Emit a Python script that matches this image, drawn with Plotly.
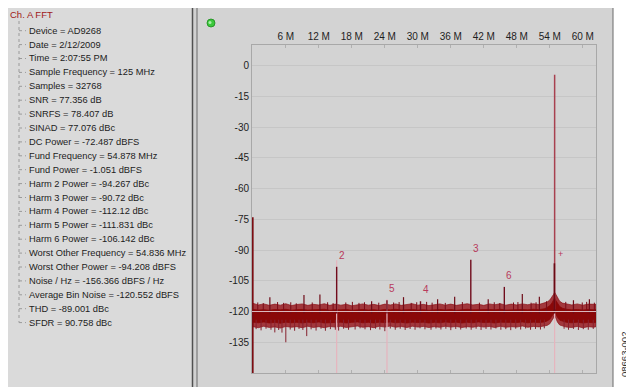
import plotly.graph_objects as go

# ---------------- data ----------------
panel_title = "Ch. A FFT"
panel_items = [
    "Device = AD9268", "Date = 2/12/2009", "Time = 2:07:55 PM",
    "Sample Frequency = 125 MHz", "Samples = 32768", "SNR = 77.356 dB",
    "SNRFS = 78.407 dB", "SINAD = 77.076 dBc", "DC Power = -72.487 dBFS",
    "Fund Frequency = 54.878 MHz", "Fund Power = -1.051 dBFS",
    "Harm 2 Power = -94.267 dBc", "Harm 3 Power = -90.72 dBc",
    "Harm 4 Power = -112.12 dBc", "Harm 5 Power = -111.831 dBc",
    "Harm 6 Power = -106.142 dBc", "Worst Other Frequency = 54.836 MHz",
    "Worst Other Power = -94.208 dBFS", "Noise / Hz = -156.366 dBFS / Hz",
    "Average Bin Noise = -120.552 dBFS", "THD = -89.001 dBc", "SFDR = 90.758 dBc",
]

x_tick_vals = [6, 12, 18, 24, 30, 36, 42, 48, 54, 60]
x_tick_text = ["6 M", "12 M", "18 M", "24 M", "30 M", "36 M", "42 M", "48 M", "54 M", "60 M"]
y_tick_vals = [0, -15, -30, -45, -60, -75, -90, -105, -120, -135]
y_tick_text = ["0", "-15", "-30", "-45", "-60", "-75", "-90", "-105", "-120", "-135"]

# noise floor envelopes (MHz, dBFS)
noise_f = [0, 1, 2, 3, 4, 5, 6, 7, 8, 9, 10, 11, 12, 13, 14, 15, 16, 17, 18, 19,
           20, 21, 22, 23, 24, 25, 26, 27, 28, 29, 30, 31, 32, 33, 34, 35, 36, 37, 38, 39,
           40, 41, 42, 43, 44, 45, 46, 47, 48, 49, 50, 51, 52, 53,
           53.5, 54, 54.4, 54.7, 54.878, 55.1, 55.4, 55.8, 56.3,
           57, 58, 59, 60, 61, 62, 62.4]
noise_outer_top = [-116.0, -116.8, -116.3, -117.0, -116.4, -116.9, -116.2, -117.1, -116.6, -116.3,
                   -117.0, -116.5, -116.8, -116.2, -117.0, -116.4, -116.9, -116.5, -117.2, -116.6,
                   -116.3, -116.9, -116.5, -117.1, -116.4, -116.8, -116.3, -117.0, -116.6, -116.2,
                   -116.9, -116.5, -117.1, -116.6, -116.3, -116.9, -116.4, -117.0, -116.6, -116.2,
                   -116.8, -116.5, -117.0, -116.3, -116.7, -116.2, -116.9, -116.4, -116.8, -116.3,
                   -116.7, -116.2, -116.6, -116.0,
                   -115.4, -114.4, -113.0, -111.6, -110.6, -111.8, -113.4, -115.0, -115.9,
                   -116.4, -116.8, -116.3, -116.9, -116.4, -116.7, -116.5]
noise_core_top = [-119.0, -119.3, -119.1, -119.4, -119.0, -119.2, -118.9, -119.4, -119.1, -119.0,
                  -119.3, -119.1, -119.2, -118.9, -119.4, -119.1, -119.2, -119.0, -119.4, -119.1,
                  -119.0, -119.3, -119.1, -119.4, -119.0, -119.2, -118.9, -119.3, -119.1, -119.0,
                  -119.3, -119.1, -119.4, -119.1, -119.0, -119.3, -119.0, -119.4, -119.1, -118.9,
                  -119.2, -119.1, -119.3, -119.0, -119.2, -118.9, -119.3, -119.1, -119.2, -119.0,
                  -119.2, -118.9, -119.1, -118.7,
                  -118.0, -117.2, -115.8, -114.4, -113.4, -114.6, -116.2, -117.6, -118.4,
                  -118.9, -119.2, -119.0, -119.3, -119.0, -119.2, -119.1]
noise_core_bot = [-125.2, -125.5, -125.1, -125.6, -125.3, -125.7, -125.2, -125.5, -125.3, -125.6,
                  -125.2, -125.5, -125.1, -125.6, -125.3, -125.4, -125.2, -125.6, -125.3, -125.1,
                  -125.5, -125.3, -125.6, -125.2, -125.4, -125.1, -125.5, -125.3, -125.6, -125.2,
                  -125.4, -125.2, -125.6, -125.3, -125.5, -125.1, -125.4, -125.2, -125.6, -125.3,
                  -125.5, -125.1, -125.4, -125.3, -125.6, -125.2, -125.5, -125.3, -125.4, -125.1,
                  -125.5, -125.2, -125.4, -125.1,
                  -124.6, -123.8, -122.4, -121.0, -120.0, -121.2, -122.9, -124.2, -124.8,
                  -125.3, -125.5, -125.2, -125.6, -125.3, -125.5, -125.2]
noise_outer_bot = [-127.4, -127.9, -127.2, -127.8, -127.5, -128.1, -127.3, -127.7, -127.4, -127.9,
                   -127.2, -127.8, -127.4, -127.9, -127.3, -127.6, -127.2, -127.8, -127.5, -127.1,
                   -127.7, -127.4, -127.9, -127.2, -127.6, -127.1, -127.7, -127.3, -127.8, -127.2,
                   -127.6, -127.3, -127.8, -127.4, -127.7, -127.2, -127.6, -127.3, -127.8, -127.4,
                   -127.7, -127.2, -127.6, -127.3, -127.8, -127.2, -127.7, -127.4, -127.6, -127.1,
                   -127.7, -127.3, -127.5, -127.0,
                   -126.8, -126.0, -124.6, -123.0, -121.8, -123.2, -125.2, -126.6, -127.2,
                   -127.6, -127.8, -127.3, -127.9, -127.4, -127.7, -127.4]

# small upward noise spikes
small_up_f = [0.9, 1.9, 4.5, 5.6, 6.9, 7.9, 10.8, 13.6, 14.6, 16.9, 18.1, 19.3, 20.3, 22.9,
              25.6, 26.6, 28.8, 29.8, 31.6, 32.6, 35.0, 38.1, 41.2, 43.9, 44.9, 47.4, 48.2,
              50.6, 51.5, 53.4, 56.9, 59.9, 60.7, 62.1]
small_up_db = [-115.6, -115.9, -115.4, -115.8, -115.5, -116.0, -115.6, -115.5, -115.9, -115.6,
               -115.3, -115.8, -115.5, -115.7, -115.6, -115.4, -115.8, -115.5, -115.3, -115.7,
               -115.8, -115.4, -115.7, -115.5, -115.9, -115.6, -115.4, -115.7, -115.5, -115.0,
               -115.3, -115.6, -115.3, -115.7]

# regular spurs (~3 MHz spacing)
spur_f = [3.1, 9.3, 12.2, 21.6, 27.4, 33.6, 36.7, 42.8, 49.0, 52.1, 58.3, 61.2]
spur_db = [-113.0, -112.0, -111.7, -115.0, -113.0, -114.0, -112.8, -114.0, -111.5, -112.8, -114.5, -114.0]

# downward noise spikes
down_f = [0.6, 1.5, 2.4, 3.3, 4.0, 4.7, 5.3, 6.0, 6.8, 7.6, 8.4, 9.1, 9.8, 10.6, 11.5, 12.4,
          13.2, 14.1, 15.0, 15.6, 16.5, 17.4, 18.6, 19.5, 20.4, 21.4, 22.3, 23.1, 24.0, 25.0,
          25.9, 26.8, 27.7, 28.6, 29.5, 30.4, 31.3, 32.4, 33.3, 34.2, 35.1, 36.0, 36.9, 37.8,
          38.8, 39.7, 40.6, 41.5, 42.4, 43.3, 44.2, 45.1, 46.0, 46.9, 47.8, 48.7, 49.6, 50.5,
          51.4, 52.3, 53.0, 56.6, 57.4, 58.3, 59.2, 60.1, 61.0, 61.9]
down_db = [-128.6, -129.2, -128.4, -128.9, -130.2, -129.0, -130.3, -135.0, -128.8, -129.4,
           -128.5, -129.0, -132.0, -128.7, -129.3, -128.4, -129.4, -128.6, -128.9, -129.3,
           -128.4, -128.9, -128.8, -128.2, -128.7, -129.1, -128.4, -128.8, -129.6, -128.3,
           -128.9, -128.4, -129.0, -128.5, -128.9, -128.2, -128.7, -128.9, -128.3, -128.8,
           -128.4, -129.1, -128.5, -128.8, -128.3, -128.9, -128.4, -129.0, -128.5, -128.8,
           -128.3, -128.9, -128.6, -129.1, -128.4, -128.8, -128.3, -128.9, -128.5, -128.8,
           -128.2, -128.4, -128.9, -128.5, -129.0, -128.6, -128.9, -128.5]

# harmonics (aliased frequencies, MHz) and their levels
harm_labels = ["2", "3", "4", "5", "6"]
harm_f = [15.244, 39.634, 30.488, 24.390, 45.732]
harm_db = [-98.2, -94.7, -115.0, -114.5, -108.0]

fund_f = 54.878
fund_db = -4.5
worst_f = 54.836
worst_db = -96.5
dc_f = 0.0
dc_db = -74.0
noise_base_db = -121.0

marker_f = [15.244, 24.390, 54.878]
marker_top_db = [-95.0, -114.0, -120.5]

# ---------------- pixel helpers (page pixels; the page body adds an 8 px offset) ----------------
OFF = 8
FIG_W, FIG_H = 634 - OFF, 387 - OFF
L, R, T, B = 252, 596, 45, 373
W, H = R - L, B - T


def px(p):
    return (p - L) / W


def py(p):
    return (B - p) / H


def segs(fs, tops, base):
    xs, ys = [], []
    for f, t in zip(fs, tops):
        xs += [f, f, None]
        ys += [base, t, None]
    return xs, ys


DARK = "#8a0808"
FONT = "Liberation Sans"
fig = go.Figure()

# noise floor bands
fig.add_trace(go.Scatter(x=noise_f + noise_f[::-1], y=noise_outer_top + noise_outer_bot[::-1],
                         fill="toself", fillcolor="rgba(150,18,24,0.8)", mode="lines",
                         line=dict(color="rgba(140,16,22,0.85)", width=0.8), hoverinfo="skip"))
fig.add_trace(go.Scatter(x=noise_f + noise_f[::-1], y=noise_core_top + noise_core_bot[::-1],
                         fill="toself", fillcolor=DARK, mode="lines",
                         line=dict(color=DARK, width=0.8), hoverinfo="skip"))

# marker lines (pink)
mx, my = [], []
for f, t in zip(marker_f, marker_top_db):
    mx += [f, f, None]
    my += [-150, t, None]
fig.add_trace(go.Scatter(x=mx, y=my, mode="lines", line=dict(color="#e6b4be", width=1.2),
                         hoverinfo="skip"))

# noise spikes
xs, ys = segs(small_up_f, small_up_db, noise_base_db)
fig.add_trace(go.Scatter(x=xs, y=ys, mode="lines", line=dict(color="#7a0c18", width=1),
                         hoverinfo="skip"))
xs, ys = segs(down_f, down_db, -124.0)
fig.add_trace(go.Scatter(x=xs, y=ys, mode="lines", line=dict(color="#86202e", width=1),
                         hoverinfo="skip"))
xs, ys = segs(spur_f, spur_db, noise_base_db)
fig.add_trace(go.Scatter(x=xs, y=ys, mode="lines", line=dict(color="#6e0c18", width=1.2),
                         hoverinfo="skip"))
xs, ys = segs(harm_f, harm_db, noise_base_db)
fig.add_trace(go.Scatter(x=xs, y=ys, mode="lines", line=dict(color="#700c1c", width=1.4),
                         hoverinfo="skip"))

# fundamental, worst other, DC
fig.add_trace(go.Scatter(x=[fund_f, fund_f], y=[-119.0, fund_db], mode="lines",
                         line=dict(color="#a8404f", width=1.5), hoverinfo="skip"))
fig.add_trace(go.Scatter(x=[worst_f, worst_f], y=[noise_base_db, worst_db], mode="lines",
                         line=dict(color="#6a0a14", width=1.6), hoverinfo="skip"))
fig.add_trace(go.Scatter(x=[dc_f, dc_f], y=[-150, dc_db], mode="lines",
                         line=dict(color="#7a0a10", width=1.6), hoverinfo="skip"))

annotations = []
# harmonic labels
for lab, f, d in zip(harm_labels, harm_f, harm_db):
    annotations.append(dict(x=f, y=d, xref="x", yref="y", text=lab, showarrow=False,
                            xanchor="left", yanchor="bottom", xshift=0, yshift=4,
                            font=dict(family=FONT, size=10, color="#b83a5c")))
annotations.append(dict(x=fund_f, y=worst_db, xref="x", yref="y", text="+", showarrow=False,
                        xanchor="left", yanchor="bottom", xshift=1, yshift=2,
                        font=dict(family=FONT, size=9, color="#b83a5c")))

# left panel text
annotations.append(dict(x=px(8), y=py(14), xref="paper", yref="paper", text=panel_title,
                        showarrow=False, xanchor="left", yanchor="middle",
                        font=dict(family=FONT, size=9.5, color="#a01818")))
item_y = [30.7 + i * 13.9 for i in range(len(panel_items))]
for t, yy in zip(panel_items, item_y):
    annotations.append(dict(x=px(27), y=py(yy), xref="paper", yref="paper", text=t,
                            showarrow=False, xanchor="left", yanchor="middle",
                            font=dict(family=FONT, size=9.3, color="#1c1c1c")))

# figure id
annotations.append(dict(x=px(624), y=py(355), xref="paper", yref="paper", text="08663-002",
                        showarrow=False, textangle=-90, xanchor="center", yanchor="middle",
                        font=dict(family=FONT, size=9.5, color="#333333")))

shapes = [
    # left panel
    dict(type="rect", xref="paper", yref="paper", x0=px(4), x1=px(193), y0=py(7), y1=py(392),
         fillcolor="#dadada", line=dict(color="#9a9a9a", width=1), layer="below"),
    # gap between panels
    dict(type="rect", xref="paper", yref="paper", x0=px(193), x1=px(197), y0=py(7), y1=py(392),
         fillcolor="#d0d0d0", line=dict(width=0), layer="below"),
    dict(type="line", xref="paper", yref="paper", x0=px(192.5), x1=px(192.5), y0=py(7), y1=py(392),
         line=dict(color="#505050", width=1.5), layer="below"),
    # right panel
    dict(type="rect", xref="paper", yref="paper", x0=px(197), x1=px(613), y0=py(7), y1=py(392),
         fillcolor="#d3d3d3", line=dict(color="#6a6a6a", width=1), layer="below"),
    # green dot
    dict(type="circle", xref="paper", yref="paper", x0=px(207), x1=px(215), y0=py(27), y1=py(19),
         fillcolor="#3cc83c", line=dict(color="#1c8a1c", width=0.8), layer="above"),
    dict(type="circle", xref="paper", yref="paper", x0=px(208.5), x1=px(211.5), y0=py(24), y1=py(21),
         fillcolor="#a8f0a8", line=dict(width=0), layer="above"),
    # tree vertical line
    dict(type="line", xref="paper", yref="paper", x0=px(19), x1=px(19), y0=py(21), y1=py(item_y[-1]),
         line=dict(color="#9a9a9a", width=1, dash="dot"), layer="above"),
    # light gridline at -120 drawn over the noise
    dict(type="line", xref="paper", yref="y", x0=0, x1=1, y0=-120, y1=-120,
         line=dict(color="rgba(235,215,218,0.85)", width=1), layer="above"),
]
for yy in item_y:
    shapes.append(dict(type="line", xref="paper", yref="paper", x0=px(19), x1=px(26),
                       y0=py(yy), y1=py(yy), line=dict(color="#9a9a9a", width=1, dash="dot"),
                       layer="above"))

fig.update_layout(
    width=FIG_W, height=FIG_H,
    margin=dict(l=L - OFF, r=634 - R, t=T - OFF, b=387 - B, pad=0),
    paper_bgcolor="#ffffff",
    plot_bgcolor="#f7f7f7",
    showlegend=False,
    annotations=annotations,
    shapes=shapes,
    font=dict(family=FONT, size=10, color="#1e1e1e"),
)
fig.update_xaxes(range=[-0.15, 62.4], side="top", tickvals=x_tick_vals, ticktext=x_tick_text,
                 showgrid=False, zeroline=False, ticks="inside", ticklen=3, tickcolor="#b0b0b0",
                 showline=True, linecolor="#a8a8a8", mirror="ticks",
                 tickfont=dict(family=FONT, size=10, color="#1e1e1e"))
fig.update_yaxes(range=[-150, 10], tickvals=y_tick_vals, ticktext=y_tick_text,
                 showgrid=True, gridcolor="#c6c6c6", gridwidth=1, zeroline=False,
                 showline=True, linecolor="#a8a8a8", mirror=True, ticks="",
                 tickfont=dict(family=FONT, size=10, color="#1e1e1e"))

fig.write_html("out.html")
